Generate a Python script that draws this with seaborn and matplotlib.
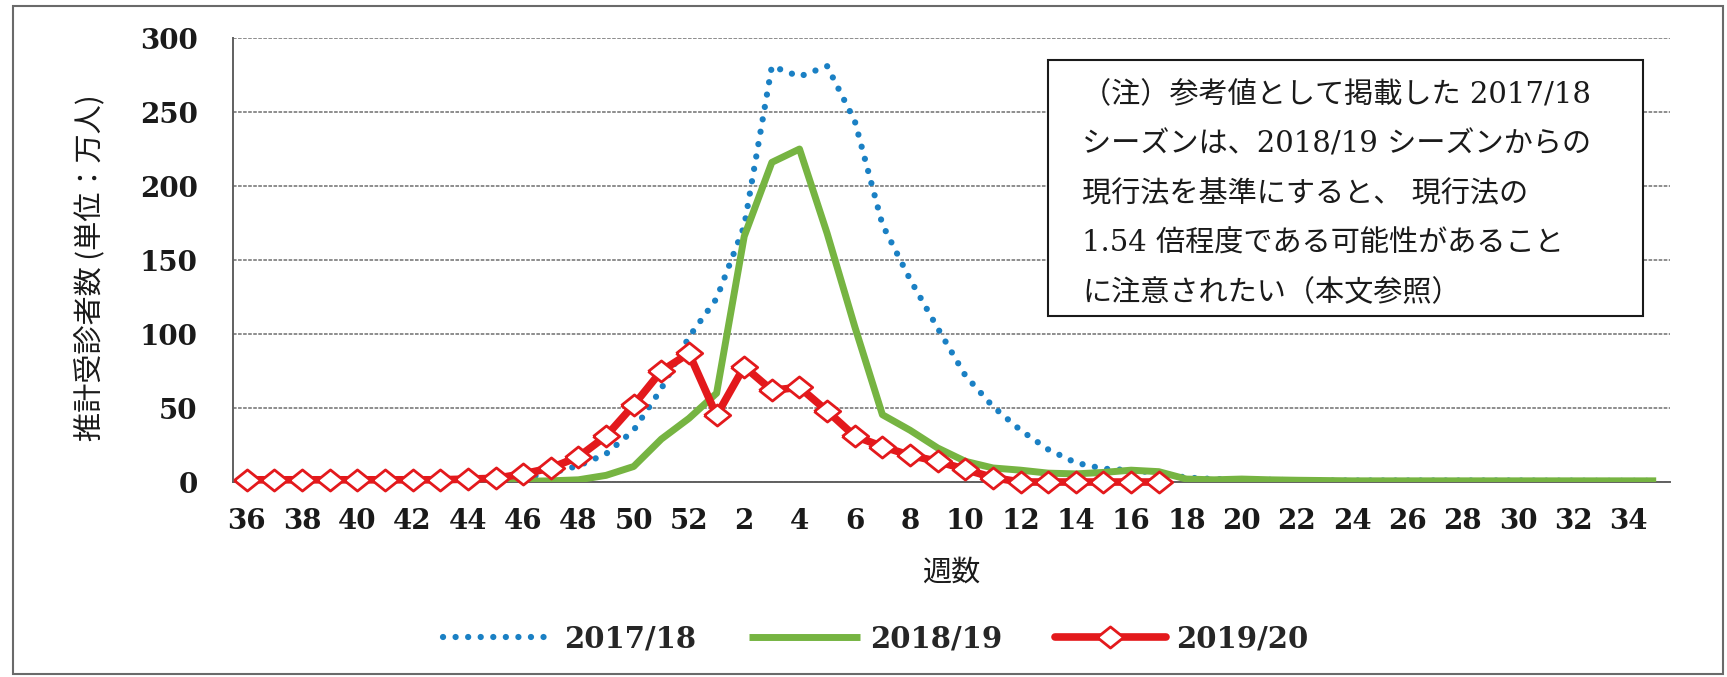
import numpy as np
import pandas as pd
import matplotlib
matplotlib.use("Agg")
import matplotlib.pyplot as plt
from matplotlib.patches import Rectangle
import seaborn as sns

# ==========================
# DATA (推計受診者数, 万人)
# ==========================

weeks = list(range(36, 53)) + list(range(1, 36))

season_1718 = [0.5, 0.5, 0.5, 0.5, 0.6, 0.7, 0.8, 1, 1.2, 1.8, 3, 6, 11, 19, 35, 63, 98,
               124, 173, 281, 274, 281, 244, 174, 137, 104, 72, 51, 35, 22, 13, 9, 8, 6,
               3, 2, 1.8, 1.5, 1.2, 1, 1, 1, 1, 1, 1, 1, 1, 0.9, 0.9, 0.8, 0.8, 0.8]

season_1819 = [0.3, 0.3, 0.3, 0.3, 0.3, 0.3, 0.3, 0.3, 0.3, 0.3, 0.5, 0.8, 1.5, 4.5, 10.5, 29, 43,
               60, 166, 216, 225, 168, 105, 45.5, 35, 23, 14, 9.5, 8, 6, 5.5, 6.5, 8, 7,
               2, 1.5, 2, 1.5, 1.2, 1, 0.8, 0.8, 0.8, 0.8, 0.8, 0.8, 0.8, 0.8, 0.8, 0.8, 0.8, 0.8]

season_1920 = [1.5, 1.5, 1.5, 1.5, 1.5, 1.5, 1.5, 1.5, 2, 2.5, 5.5, 9.5, 17, 31, 52, 75, 87,
               45, 78, 62, 64, 48, 31, 24, 18, 14, 8.5, 3, 0, 0, 0, 0, 0, 0]

series_labels = ["2017/18", "2018/19", "2019/20"]

note_lines = [
    "（注）参考値として掲載した 2017/18",
    "シーズンは、2018/19 シーズンからの",
    "現行法を基準にすると、 現行法の",
    "1.54 倍程度である可能性があること",
    "に注意されたい（本文参照）",
]

pos = np.arange(len(weeks))
df = pd.DataFrame({"pos": pos, "week": weeks,
                   "s1718": season_1718, "s1819": season_1819})
df_red = pd.DataFrame({"pos": pos[:len(season_1920)], "s1920": season_1920})

# ==========================
# STYLE
# ==========================

sns.set_style("white")
plt.rcParams["font.family"] = ["DejaVu Serif", "Noto Sans CJK JP"]
jp = ["Noto Sans CJK JP", "DejaVu Serif"]

fig = plt.figure(figsize=(17.27, 6.77), dpi=100)
ax = fig.add_axes([0.1349, 0.288, 0.8321, 0.6558])

blue = "#1a80c4"
green = "#76b442"
red = "#e3191c"

sns.lineplot(data=df, x="pos", y="s1718", ax=ax, color=blue, linewidth=4.5,
             linestyle=(0, (0.01, 2.0)), dash_capstyle="round",
             label=series_labels[0], legend=False, zorder=3)
sns.lineplot(data=df, x="pos", y="s1819", ax=ax, color=green, linewidth=5,
             solid_capstyle="butt", label=series_labels[1], legend=False, zorder=4)
diamond = [(-1, 0), (0, -0.8), (1, 0), (0, 0.8), (-1, 0)]
sns.lineplot(data=df_red, x="pos", y="s1920", ax=ax, color=red, linewidth=5.5,
             marker=diamond, markersize=19, markerfacecolor="white",
             markeredgecolor=red, markeredgewidth=2,
             label=series_labels[2], legend=False, zorder=5, clip_on=False)

# axes
ax.set_xlim(-0.5, len(weeks) - 0.5)
ax.set_ylim(0, 300)
ax.set_yticks(range(0, 301, 50))
ax.set_xticks(pos[::2])
ax.set_xticklabels(weeks[::2])
ax.set_xticks(np.arange(-0.5, len(weeks), 1), minor=True)

ax.yaxis.grid(True, color="#858585", linestyle=(0, (2, 0.8)), linewidth=1.3)
ax.xaxis.grid(False)

ax.tick_params(axis="y", length=9.5, width=1.2, color="#7a7a7a", pad=16,
               labelsize=20, labelcolor="#1a1a1a")
ax.tick_params(axis="x", which="major", length=0, pad=19,
               labelsize=20, labelcolor="#1a1a1a")
ax.tick_params(axis="x", which="minor", length=6, width=1.2,
               color="#7a7a7a", direction="out")
for lab in ax.get_xticklabels() + ax.get_yticklabels():
    lab.set_fontweight("bold")

for side in ["top", "right"]:
    ax.spines[side].set_visible(False)
for side in ["left", "bottom"]:
    ax.spines[side].set_color("#606060")
    ax.spines[side].set_linewidth(1.4)

ax.set_xlabel("週数", family=jp, fontsize=21, color="#1a1a1a")
ax.xaxis.set_label_coords(0.5, -0.17)
ax.set_ylabel("推計受診者数 (単位：万人)", family=jp, fontsize=21, color="#1a1a1a")
ax.yaxis.set_label_coords(-0.088, 0.482)

# legend
fig.legend(handles=ax.lines[:3], labels=series_labels,
           loc="center", bbox_to_anchor=(0.507, 0.056), ncol=3,
           frameon=False, prop={"family": "DejaVu Serif", "size": 21, "weight": "bold"},
           handlelength=3.8, handletextpad=0.35, columnspacing=1.8)

# note box
fig.add_artist(Rectangle((0.6068, 0.5332), 0.3445, 0.378,
                         transform=fig.transFigure, facecolor="white",
                         edgecolor="#1a1a1a", linewidth=1.5, zorder=6))
for i, line in enumerate(note_lines):
    fig.text(0.6265, 0.8597 - i * 0.0731, line, fontsize=21, va="center",
             ha="left", family=["DejaVu Serif", "Noto Sans CJK JP"],
             color="#1a1a1a", zorder=7)

# outer frame
fig.add_artist(Rectangle((13 / 1727, 0.005), (1723 - 13) / 1727, 0.986,
                         transform=fig.transFigure, fill=False,
                         edgecolor="#6a6a6a", linewidth=1.5, zorder=8))

plt.savefig("out.png", dpi=100)
plt.close()
